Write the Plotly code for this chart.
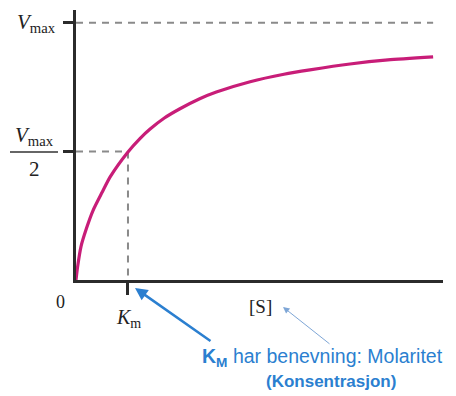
import plotly.graph_objects as go

# Reaction rate curve (S in units of Km, v in units of Vmax)
substrate = [0, 0.03, 0.096, 0.2, 0.327, 0.5, 0.654, 1.0, 1.23, 1.42, 1.7, 2.0, 2.38, 2.7, 3.35, 4.0, 4.5, 5.27, 6.0, 6.87]
velocity = [0, 0.05, 0.13, 0.2, 0.27, 0.34, 0.40, 0.498, 0.55, 0.586, 0.63, 0.666, 0.705, 0.731, 0.771, 0.8, 0.817, 0.84, 0.856, 0.868]
Km = 1.0
Vmax = 1.0
x_max = 7.06
y_max = 1.05

W, H = 456, 396
L, R, T, B = 76, 13, 10, 116
pw, ph = W - L - R, H - T - B


def px(x):
    return (x - L) / pw


def py(y):
    return (H - B - y) / ph


fig = go.Figure()
fig.add_trace(go.Scatter(
    x=substrate, y=velocity, mode="lines",
    line=dict(color="#c81d78", width=3.2, shape="spline", smoothing=0.6),
    cliponaxis=False, hoverinfo="skip", showlegend=False))

dash_style = dict(color="#8a8a8a", width=2, dash="7px,6px")
fig.add_shape(type="line", x0=0, x1=substrate[-1], y0=Vmax, y1=Vmax, line=dash_style, layer="below")
fig.add_shape(type="line", x0=0, x1=Km, y0=Vmax / 2, y1=Vmax / 2, line=dash_style, layer="below")
fig.add_shape(type="line", x0=Km, x1=Km, y0=Vmax / 2, y1=0, line=dash_style, layer="below")

serif = "Liberation Serif"
ann = []
ann.append(dict(x=px(58), y=py(23), xref="paper", yref="paper", xanchor="right", yanchor="middle",
                text="<i>V</i><sub>max</sub>", showarrow=False, font=dict(family=serif, size=21, color="#222")))
ann.append(dict(x=px(34), y=py(136), xref="paper", yref="paper", xanchor="center", yanchor="middle",
                text="<i>V</i><sub>max</sub>", showarrow=False, font=dict(family=serif, size=21, color="#222")))
ann.append(dict(x=px(34), y=py(169), xref="paper", yref="paper", xanchor="center", yanchor="middle",
                text="2", showarrow=False, font=dict(family=serif, size=21, color="#222")))
ann.append(dict(x=px(60), y=py(302), xref="paper", yref="paper", xanchor="center", yanchor="middle",
                text="0", showarrow=False, font=dict(family=serif, size=18, color="#222")))
ann.append(dict(x=px(128), y=py(318), xref="paper", yref="paper", xanchor="center", yanchor="middle",
                text="<i>K</i><sub>m</sub>", showarrow=False, font=dict(family=serif, size=20, color="#222")))
ann.append(dict(x=px(260), y=py(306), xref="paper", yref="paper", xanchor="center", yanchor="middle",
                text="[S]", showarrow=False, font=dict(family=serif, size=19, color="#222")))
# arrows
ann.append(dict(x=px(135), y=py(288), xref="paper", yref="paper", ax=77, ay=54, text="",
                showarrow=True, arrowhead=2, arrowsize=1, arrowwidth=2.5, arrowcolor="#2b7fd0"))
ann.append(dict(x=px(283), y=py(307), xref="paper", yref="paper", ax=48, ay=38, text="",
                showarrow=True, arrowhead=2, arrowsize=1.3, arrowwidth=1, arrowcolor="#7ea6d6"))
ann.append(dict(x=px(322), y=py(358), xref="paper", yref="paper", xanchor="center", yanchor="middle",
                text="<b>K<sub>M</sub></b> har benevning: Molaritet", showarrow=False,
                font=dict(family="Liberation Sans", size=19.5, color="#2b7fd0")))
ann.append(dict(x=px(331), y=py(381), xref="paper", yref="paper", xanchor="center", yanchor="middle",
                text="<b>(Konsentrasjon)</b>", showarrow=False,
                font=dict(family="Liberation Sans", size=17, color="#2b7fd0")))
fig.update_layout(annotations=ann)

fig.update_layout(
    width=W, height=H, margin=dict(l=L, r=R, t=T, b=B),
    paper_bgcolor="white", plot_bgcolor="white", showlegend=False,
    xaxis=dict(range=[0, x_max], showgrid=False, zeroline=False, showline=True, linecolor="#2b2b2b",
               linewidth=2.5, tickvals=[Km], ticktext=[""], ticks="outside", ticklen=12,
               tickwidth=2.5, tickcolor="#2b2b2b", fixedrange=True),
    yaxis=dict(range=[0, y_max], showgrid=False, zeroline=False, showline=True, linecolor="#2b2b2b",
               linewidth=2.5, tickvals=[Vmax / 2, Vmax], ticktext=["", ""], ticks="outside", ticklen=10,
               tickwidth=3, tickcolor="#2b2b2b", fixedrange=True),
    shapes=list(fig.layout.shapes) + [
        dict(type="line", xref="paper", yref="paper", x0=px(10), x1=px(58), y0=py(152), y1=py(152),
             line=dict(color="#333", width=1.5))
    ],
)

fig.write_html("out.html", config={"displayModeBar": False},
               post_script="document.body.style.margin='0';document.body.style.overflow='hidden';")
